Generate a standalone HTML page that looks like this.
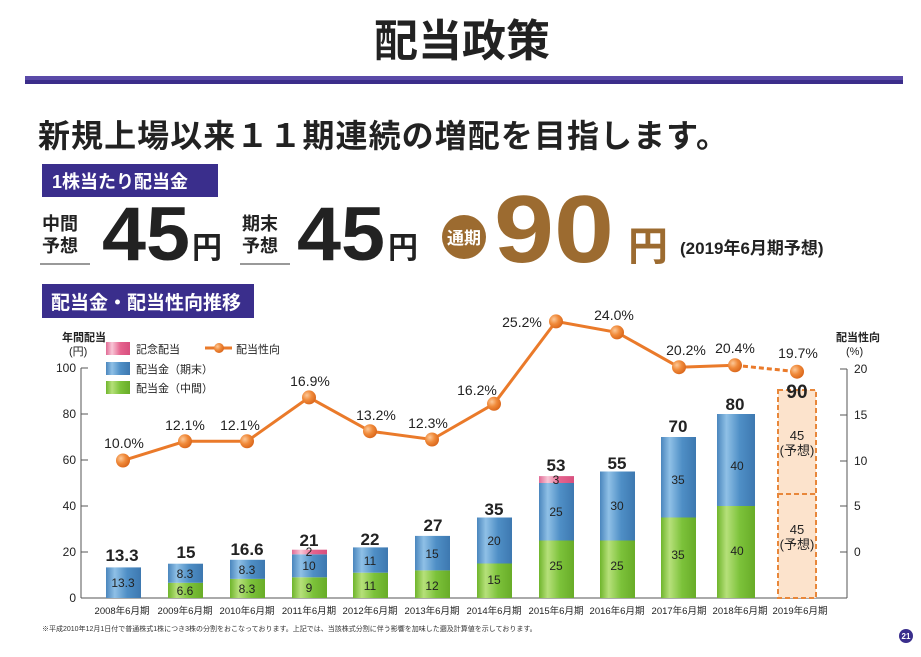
<!DOCTYPE html>
<html><head><meta charset="utf-8"><style>
body{margin:0;background:#fff;width:921px;height:652px;overflow:hidden;font-family:"Liberation Sans","Noto Sans CJK JP",sans-serif;}
</style></head><body>
<svg width="921" height="652" viewBox="0 0 921 652" xmlns="http://www.w3.org/2000/svg" font-family="Liberation Sans, Noto Sans CJK JP, sans-serif">
<defs>
<linearGradient id="gb" x1="0" x2="1"><stop offset="0" stop-color="#4a86bd"/><stop offset="0.25" stop-color="#8fc0e6"/><stop offset="0.6" stop-color="#4f8fc6"/><stop offset="1" stop-color="#3d78b0"/></linearGradient>
<linearGradient id="gg" x1="0" x2="1"><stop offset="0" stop-color="#6fb52c"/><stop offset="0.25" stop-color="#b6e07a"/><stop offset="0.6" stop-color="#7cc23a"/><stop offset="1" stop-color="#68ac28"/></linearGradient>
<linearGradient id="gp" x1="0" x2="1"><stop offset="0" stop-color="#e06a95"/><stop offset="0.25" stop-color="#f8c6d6"/><stop offset="0.6" stop-color="#e5638e"/><stop offset="1" stop-color="#d84f7e"/></linearGradient>
<radialGradient id="go" cx="0.35" cy="0.35" r="0.7"><stop offset="0" stop-color="#fcc898"/><stop offset="0.5" stop-color="#f08a3a"/><stop offset="1" stop-color="#d9651a"/></radialGradient>
</defs>
<text x="462" y="56" text-anchor="middle" font-size="44" font-weight="bold" fill="#222">配当政策</text>
<rect x="25" y="76" width="878" height="8" fill="#5a4aa8"/>
<rect x="25" y="80" width="878" height="4" fill="#3b2d8a"/>
<text x="38" y="147" font-size="32" font-weight="bold" fill="#222" textLength="690" lengthAdjust="spacing">新規上場以来１１期連続の増配を目指します。</text>
<rect x="42" y="164" width="176" height="33" fill="#3a2e8c"/>
<text x="52" y="188" font-size="18" font-weight="bold" fill="#fff">1株当たり配当金</text>
<text x="42" y="230" font-size="18" font-weight="bold" fill="#222">中間</text>
<text x="42" y="252" font-size="18" font-weight="bold" fill="#222">予想</text>
<line x1="40" y1="264" x2="90" y2="264" stroke="#333"/>
<text x="102" y="260" font-size="76" font-weight="bold" fill="#222" textLength="88" lengthAdjust="spacingAndGlyphs">45</text>
<text x="192" y="258" font-size="30" font-weight="bold" fill="#222">円</text>
<text x="242" y="230" font-size="18" font-weight="bold" fill="#222">期末</text>
<text x="242" y="252" font-size="18" font-weight="bold" fill="#222">予想</text>
<line x1="240" y1="264" x2="290" y2="264" stroke="#333"/>
<text x="297" y="260" font-size="76" font-weight="bold" fill="#222" textLength="88" lengthAdjust="spacingAndGlyphs">45</text>
<text x="388" y="258" font-size="30" font-weight="bold" fill="#222">円</text>
<circle cx="464" cy="237" r="22" fill="#9c6b30"/>
<text x="464" y="244" text-anchor="middle" font-size="17" font-weight="bold" fill="#fff">通期</text>
<text x="494" y="262" font-size="96" font-weight="bold" fill="#9c6b30" textLength="120" lengthAdjust="spacingAndGlyphs">90</text>
<text x="628" y="260" font-size="40" font-weight="bold" fill="#9c6b30">円</text>
<text x="680" y="254" font-size="17" font-weight="bold" fill="#222">(2019年6月期予想)</text>
<rect x="42" y="284" width="212" height="34" fill="#3a2e8c"/>
<text x="51" y="309" font-size="19" font-weight="bold" fill="#fff">配当金・配当性向推移</text>
<g font-size="11" fill="#222">
<text x="62" y="341" font-weight="bold">年間配当</text><text x="69" y="355">(円)</text>
<text x="836" y="341" font-weight="bold">配当性向</text><text x="846" y="355">(%)</text>
</g>
<g stroke="#555" stroke-width="1"><line x1="81" y1="368" x2="81" y2="598"/><line x1="81" y1="598" x2="847" y2="598"/><line x1="847" y1="369" x2="847" y2="598"/>
<line x1="81" y1="368" x2="88" y2="368"/><line x1="81" y1="414" x2="88" y2="414"/><line x1="81" y1="460" x2="88" y2="460"/><line x1="81" y1="506" x2="88" y2="506"/><line x1="81" y1="552" x2="88" y2="552"/>
<line x1="840" y1="369" x2="847" y2="369"/><line x1="840" y1="415" x2="847" y2="415"/><line x1="840" y1="461" x2="847" y2="461"/><line x1="840" y1="506" x2="847" y2="506"/><line x1="840" y1="552" x2="847" y2="552"/></g>
<g font-size="12" fill="#222" text-anchor="end"><text x="76" y="372">100</text><text x="76" y="418">80</text><text x="76" y="464">60</text><text x="76" y="510">40</text><text x="76" y="556">20</text><text x="76" y="602">0</text></g>
<g font-size="12" fill="#222"><text x="854" y="373">20</text><text x="854" y="419">15</text><text x="854" y="465">10</text><text x="854" y="510">5</text><text x="854" y="556">0</text></g>
<rect x="106" y="342" width="24" height="13" fill="url(#gp)"/><text x="136" y="353" font-size="11" fill="#222">記念配当</text>
<rect x="106" y="362" width="24" height="13" fill="url(#gb)"/><text x="136" y="373" font-size="11" fill="#222">配当金（期末）</text>
<rect x="106" y="381" width="24" height="13" fill="url(#gg)"/><text x="136" y="392" font-size="11" fill="#222">配当金（中間）</text>
<line x1="205" y1="348" x2="232" y2="348" stroke="#ea7a2a" stroke-width="3"/><circle cx="219" cy="348" r="5" fill="url(#go)"/><text x="236" y="353" font-size="11" fill="#222">配当性向</text>
<g font-size="12" fill="#222" text-anchor="middle">
<rect x="106" y="567.4" width="35" height="30.6" fill="url(#gb)"/><text x="123" y="587">13.3</text>
<rect x="168" y="582.8" width="35" height="15.2" fill="url(#gg)"/><rect x="168" y="563.7" width="35" height="19.1" fill="url(#gb)"/><text x="185" y="595">6.6</text><text x="185" y="578">8.3</text>
<rect x="230" y="578.9" width="35" height="19.1" fill="url(#gg)"/><rect x="230" y="559.8" width="35" height="19.1" fill="url(#gb)"/><text x="247" y="593">8.3</text><text x="247" y="574">8.3</text>
<rect x="292" y="577.3" width="35" height="20.7" fill="url(#gg)"/><rect x="292" y="554.3" width="35" height="23" fill="url(#gb)"/><rect x="292" y="549.7" width="35" height="4.6" fill="url(#gp)"/><text x="309" y="592">9</text><text x="309" y="570">10</text><text x="309" y="556">2</text>
<rect x="353" y="572.7" width="35" height="25.3" fill="url(#gg)"/><rect x="353" y="547.4" width="35" height="25.3" fill="url(#gb)"/><text x="370" y="590">11</text><text x="370" y="565">11</text>
<rect x="415" y="570.4" width="35" height="27.6" fill="url(#gg)"/><rect x="415" y="535.9" width="35" height="34.5" fill="url(#gb)"/><text x="432" y="590">12</text><text x="432" y="558">15</text>
<rect x="477" y="563.5" width="35" height="34.5" fill="url(#gg)"/><rect x="477" y="517.5" width="35" height="46" fill="url(#gb)"/><text x="494" y="584">15</text><text x="494" y="545">20</text>
<rect x="539" y="540.5" width="35" height="57.5" fill="url(#gg)"/><rect x="539" y="483" width="35" height="57.5" fill="url(#gb)"/><rect x="539" y="476.1" width="35" height="6.9" fill="url(#gp)"/><text x="556" y="570">25</text><text x="556" y="516">25</text><text x="556" y="484">3</text>
<rect x="600" y="540.5" width="35" height="57.5" fill="url(#gg)"/><rect x="600" y="471.5" width="35" height="69" fill="url(#gb)"/><text x="617" y="570">25</text><text x="617" y="510">30</text>
<rect x="661" y="517.5" width="35" height="80.5" fill="url(#gg)"/><rect x="661" y="437" width="35" height="80.5" fill="url(#gb)"/><text x="678" y="559">35</text><text x="678" y="484">35</text>
<rect x="717" y="506" width="38" height="92" fill="url(#gg)"/><rect x="717" y="414" width="38" height="92" fill="url(#gb)"/><text x="737" y="555">40</text><text x="737" y="470">40</text>
<rect x="778" y="390" width="38" height="208" fill="#fce3cc" stroke="#e8873a" stroke-width="2" stroke-dasharray="5,3"/><line x1="778" y1="494" x2="816" y2="494" stroke="#e8873a" stroke-width="2" stroke-dasharray="5,3"/>
<text x="797" y="440" font-size="13">45</text><text x="797" y="455" font-size="13">(予想)</text>
<text x="797" y="534" font-size="13">45</text><text x="797" y="549" font-size="13">(予想)</text>
</g>
<g font-size="17" font-weight="bold" fill="#222" text-anchor="middle">
<text x="122" y="561">13.3</text><text x="186" y="558">15</text><text x="247" y="555">16.6</text><text x="309" y="546">21</text><text x="370" y="545">22</text><text x="433" y="531">27</text><text x="494" y="515">35</text><text x="556" y="471">53</text><text x="617" y="469">55</text><text x="678" y="432">70</text><text x="735" y="410">80</text><text x="797" y="398" font-size="19">90</text>
</g>
<polyline points="123,460.5 185,441.3 247,441.3 309,397.4 370,431.2 432,439.5 494,403.8 556,321.4 617,332.4 679,367.2 735,365.3" fill="none" stroke="#ea7a2a" stroke-width="3"/>
<line x1="735" y1="365.3" x2="797" y2="371.7" stroke="#ea7a2a" stroke-width="3" stroke-dasharray="5,3"/>
<g fill="url(#go)"><circle cx="123" cy="460.5" r="7"/><circle cx="185" cy="441.3" r="7"/><circle cx="247" cy="441.3" r="7"/><circle cx="309" cy="397.4" r="7"/><circle cx="370" cy="431.2" r="7"/><circle cx="432" cy="439.5" r="7"/><circle cx="494" cy="403.8" r="7"/><circle cx="556" cy="321.4" r="7"/><circle cx="617" cy="332.4" r="7"/><circle cx="679" cy="367.2" r="7"/><circle cx="735" cy="365.3" r="7"/><circle cx="797" cy="371.7" r="7"/></g>
<g font-size="14" fill="#222" text-anchor="middle">
<text x="124" y="448">10.0%</text><text x="185" y="430">12.1%</text><text x="240" y="430">12.1%</text><text x="310" y="386">16.9%</text><text x="376" y="420">13.2%</text><text x="428" y="428">12.3%</text><text x="477" y="395">16.2%</text><text x="522" y="327">25.2%</text><text x="614" y="320">24.0%</text><text x="686" y="355">20.2%</text><text x="735" y="353">20.4%</text><text x="798" y="358">19.7%</text>
</g>
<g font-size="9.5" fill="#222" text-anchor="middle">
<text x="122" y="614">2008年6月期</text><text x="185" y="614">2009年6月期</text><text x="247" y="614">2010年6月期</text><text x="309" y="614">2011年6月期</text><text x="370" y="614">2012年6月期</text><text x="432" y="614">2013年6月期</text><text x="494" y="614">2014年6月期</text><text x="556" y="614">2015年6月期</text><text x="617" y="614">2016年6月期</text><text x="679" y="614">2017年6月期</text><text x="740" y="614">2018年6月期</text><text x="800" y="614">2019年6月期</text>
</g>
<text x="42" y="631" font-size="7" fill="#333">※平成2010年12月1日付で普通株式1株につき3株の分割をおこなっております。上記では、当該株式分割に伴う影響を加味した遡及計算値を示しております。</text>
<circle cx="906" cy="636" r="7" fill="#3a2e8c"/><text x="906" y="639" font-size="8" font-weight="bold" fill="#fff" text-anchor="middle">21</text>
</svg>
</body></html>
